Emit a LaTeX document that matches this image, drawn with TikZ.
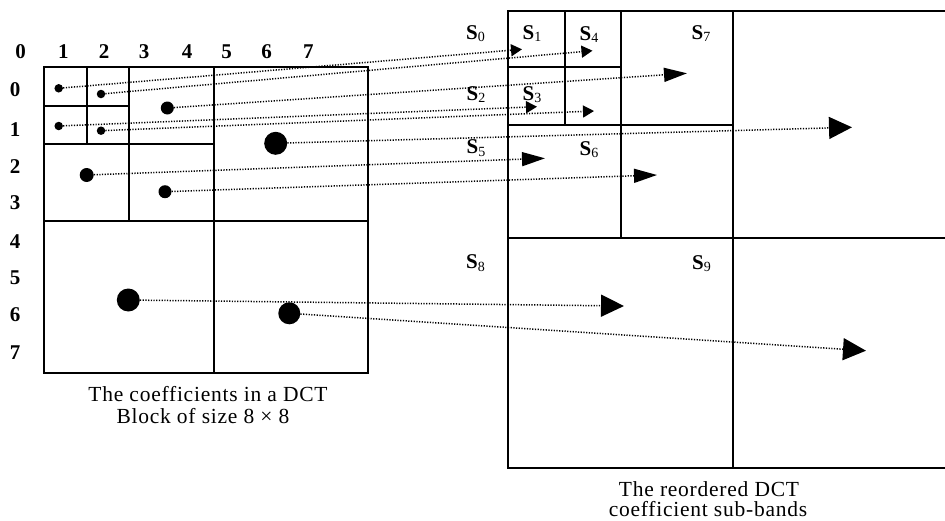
\documentclass[tikz,border=0pt]{standalone}
\usepackage{fontspec}
\setmainfont{Liberation Serif}
\newfontfamily\capfont[LetterSpace=3.5]{Liberation Serif}
\usetikzlibrary{arrows.meta}
\tikzset{
  grid/.style={line width=1.2pt, line cap=rect},
  dotc/.style={circle, fill=black, inner sep=0pt, minimum size=#1},
  conn/.style={line width=1.5pt, dash pattern=on 1.2pt off 1.5pt},
  smallhead/.style={-{Triangle[length=11pt,width=12pt]}},
  midhead/.style={-{Triangle[length=23pt,width=14pt]}},
  bighead/.style={-{Triangle[length=23pt,width=22pt]}},
  numlab/.style={inner sep=0pt, font=\fontsize{21}{21}\selectfont\bfseries},
  slab/.style={inner sep=0pt, anchor=base west, font=\fontsize{21}{21}\selectfont},
  caption/.style={inner sep=0pt, anchor=base, font=\fontsize{21.5}{22}\selectfont\capfont},
}
\newcommand{\sband}[1]{\textbf{S}\raisebox{-0.3ex}{\fontsize{14}{14}\selectfont #1}}
\begin{document}
\begin{tikzpicture}[x=1pt,y=-1pt]
\useasboundingbox (0,0) rectangle (945,520);

% left 8x8 grid
\draw[grid] (44,67) rectangle (368,373);
\draw[grid] (87,67) -- (87,144);
\draw[grid] (44,106) -- (129,106);
\draw[grid] (129,67) -- (129,221);
\draw[grid] (44,144) -- (214,144);
\draw[grid] (214,67) -- (214,373);
\draw[grid] (44,221) -- (368,221);

% column labels
\foreach \i/\x in {0/20.7,1/63.3,2/104,3/144,4/187,5/226.7,6/266.7,7/308.3}
  \node[numlab] (c\i) at (\x,52) {\i};
% row labels
\foreach \i/\y in {0/90,1/130,2/167,3/203,4/242,5/278,6/315,7/353}
  \node[numlab] (r\i) at (15,\y) {\i};

% right sub-band grid
\draw[grid] (945,11) -- (508,11) -- (508,468) -- (945,468);
\draw[grid] (565,11) -- (565,125);
\draw[grid] (508,67) -- (621,67);
\draw[grid] (621,11) -- (621,238);
\draw[grid] (508,125) -- (733,125);
\draw[grid] (733,11) -- (733,468);
\draw[grid] (508,238) -- (945,238);

% sub-band labels
\node[slab] (s0) at (466,39) {\sband{0}};
\node[slab] (s1) at (522.5,39) {\sband{1}};
\node[slab] (s4) at (579.5,40) {\sband{4}};
\node[slab] (s7) at (691.5,39) {\sband{7}};
\node[slab] (s2) at (466.5,100) {\sband{2}};
\node[slab] (s3) at (522.5,100) {\sband{3}};
\node[slab] (s5) at (466.5,153.3) {\sband{5}};
\node[slab] (s6) at (579.5,155) {\sband{6}};
\node[slab] (s8) at (466,268.3) {\sband{8}};
\node[slab] (s9) at (692,269) {\sband{9}};

% coefficient dots
\node[dotc=8.5pt] (d1) at (58.7,88.3) {};
\node[dotc=8.5pt] (d2) at (101,94) {};
\node[dotc=8.5pt] (d3) at (58.7,126) {};
\node[dotc=8.5pt] (d4) at (101,130.7) {};
\node[dotc=13pt] (d5) at (167.3,108) {};
\node[dotc=23pt] (d6) at (275.7,143.3) {};
\node[dotc=14pt] (d7) at (86.7,175) {};
\node[dotc=13pt] (d8) at (165,191.7) {};
\node[dotc=23pt] (d9) at (128.3,300) {};
\node[dotc=22pt] (d10) at (289.3,313.3) {};

% arrow targets
\coordinate (t1) at (522,49.3);
\coordinate (t2) at (592.5,50.7);
\coordinate (t3) at (537,106.7);
\coordinate (t4) at (594,111);
\coordinate (t5) at (687,73.3);
\coordinate (t6) at (852,127.3);
\coordinate (t7) at (545,158.3);
\coordinate (t8) at (657,175);
\coordinate (t9) at (624,306);
\coordinate (t10) at (866,350.7);

\draw[conn,smallhead] (d1) -- (t1);
\draw[conn,smallhead] (d2) -- (t2);
\draw[conn,smallhead] (d3) -- (t3);
\draw[conn,smallhead] (d4) -- (t4);
\draw[conn,midhead] (d5) -- (t5);
\draw[conn,bighead] (d6) -- (t6);
\draw[conn,midhead] (d7) -- (t7);
\draw[conn,midhead] (d8) -- (t8);
\draw[conn,bighead] (d9) -- (t9);
\draw[conn,bighead] (d10) -- (t10);

% captions
\node[caption] (cap1a) at (208,401) {The coefficients in a DCT};
\node[caption] (cap1b) at (203,423) {Block of size 8 × 8};
\node[caption] (cap2a) at (709,496) {The reordered DCT};
\node[caption] (cap2b) at (708,516) {coefficient sub-bands};
\end{tikzpicture}
\end{document}
